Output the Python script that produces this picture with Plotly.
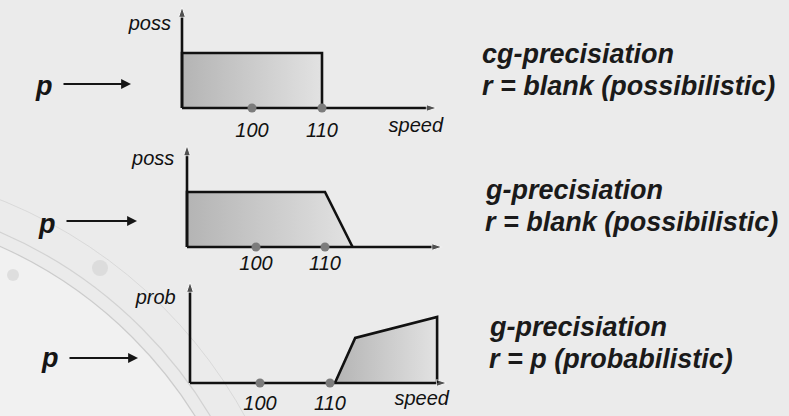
import plotly.graph_objects as go

W, H = 789, 416

# ---------------- data ----------------
speed_ticks = [100, 110]
tick_labels = ["100", "110"]

cg_speed = [90, 90, 110, 110]
cg_poss = [0, 1, 1, 0]

g_speed = [90, 90, 110, 114]
g_poss = [0, 1, 1, 0]

gp_speed = [110.7, 113.6, 125.3, 125.3]
gp_prob = [0, 0.82, 1.2, 0]

axis_start = [90, 90, 90]
axis_x_end = [126.4, 127.0, 126.7]
axis_y_top = [1.84, 1.85, 1.84]
y_titles = ["poss", "poss", "prob"]
x_title = ["speed", None, "speed"]

right_line1 = ["cg-precisiation", "g-precisiation", "g-precisiation"]
right_line2 = ["r = blank (possibilistic)", "r = blank (possibilistic)", "r = p (probabilistic)"]

panels_x = [cg_speed, g_speed, gp_speed]
panels_y = [cg_poss, g_poss, gp_prob]

# ---------------- layout helpers ----------------
origins = [(182, 108), (187, 247), (190, 383)]   # pixel of (90, 0)
sx_list = [7.0, 6.9, 7.0]
SY = 55.0
XR = [80, 130]
YR = [-0.55, 1.95]
tick_dy = [-0.44, -0.33, -0.40]
ytitle_pos = [(85.4, 1.51), (85.1, 1.58), (85.1, 1.53)]
xtitle_pos = [(123.4, -0.35), None, (123.1, -0.31)]

FONT = "Liberation Sans, Arial, sans-serif"
SMALL = 20

fig = go.Figure()
layout_axes = {}

for i in range(3):
    ox, oy = origins[i]
    sx = sx_list[i]
    xd = [(ox + (XR[0] - axis_start[i]) * sx) / W, (ox + (XR[1] - axis_start[i]) * sx) / W]
    yd = [(H - (oy - YR[0] * SY)) / H, (H - (oy - YR[1] * SY)) / H]
    xa = "xaxis" if i == 0 else f"xaxis{i+1}"
    ya = "yaxis" if i == 0 else f"yaxis{i+1}"
    xr = "x" if i == 0 else f"x{i+1}"
    yr = "y" if i == 0 else f"y{i+1}"
    layout_axes[xa] = dict(domain=xd, range=XR, visible=False, fixedrange=True, anchor=yr)
    layout_axes[ya] = dict(domain=yd, range=YR, visible=False, fixedrange=True, anchor=xr)

    # filled shape
    fig.add_trace(go.Scatter(
        x=panels_x[i], y=panels_y[i], xaxis=xr, yaxis=yr,
        mode="lines", fill="toself",
        fillgradient=dict(type="horizontal",
                          colorscale=[[0, "#b4b4b4"], [1, "#e2e2e2"]]),
        line=dict(color="#111111", width=2.6),
        hoverinfo="skip", showlegend=False))

    # axes with arrowheads
    fig.add_trace(go.Scatter(
        x=[axis_start[i], axis_x_end[i]], y=[0, 0], xaxis=xr, yaxis=yr,
        mode="lines+markers",
        line=dict(color="#111111", width=2.6),
        marker=dict(symbol="arrow", angleref="previous", size=[0, 11], color="#111111"),
        hoverinfo="skip", showlegend=False, cliponaxis=False))
    fig.add_trace(go.Scatter(
        x=[axis_start[i], axis_start[i]], y=[0, axis_y_top[i]], xaxis=xr, yaxis=yr,
        mode="lines+markers",
        line=dict(color="#111111", width=2.6),
        marker=dict(symbol="arrow", angleref="previous", size=[0, 11], color="#111111"),
        hoverinfo="skip", showlegend=False, cliponaxis=False))

    # dots at 100 and 110
    fig.add_trace(go.Scatter(
        x=speed_ticks, y=[0, 0], xaxis=xr, yaxis=yr, mode="markers",
        marker=dict(size=9, color="#7c7c7c"),
        hoverinfo="skip", showlegend=False, cliponaxis=False))

    # tick labels
    fig.add_trace(go.Scatter(
        x=speed_ticks, y=[tick_dy[i]] * 2, xaxis=xr, yaxis=yr, mode="text",
        text=tick_labels,
        textfont=dict(family=FONT, size=SMALL, color="#111111", style="italic"),
        hoverinfo="skip", showlegend=False, cliponaxis=False))

    # axis titles
    tx, ty = ytitle_pos[i]
    fig.add_trace(go.Scatter(
        x=[tx], y=[ty], xaxis=xr, yaxis=yr, mode="text", text=[y_titles[i]],
        textfont=dict(family=FONT, size=SMALL, color="#111111", style="italic"),
        hoverinfo="skip", showlegend=False, cliponaxis=False))
    if x_title[i]:
        tx, ty = xtitle_pos[i]
        fig.add_trace(go.Scatter(
            x=[tx], y=[ty], xaxis=xr, yaxis=yr, mode="text", text=[x_title[i]],
            textfont=dict(family=FONT, size=SMALL, color="#111111", style="italic"),
            hoverinfo="skip", showlegend=False, cliponaxis=False))

# ---------------- annotations: p -> arrows and right text ----------------
annotations = []
p_pos = [(44, 86), (47, 224), (50, 358)]
arrow_pos = [(62, 131, 84), (65, 137, 221), (68, 138, 358)]
for i in range(3):
    px, py = p_pos[i]
    annotations.append(dict(
        x=px / W, y=(H - py) / H, xref="paper", yref="paper",
        text="<b><i>p</i></b>", showarrow=False,
        font=dict(family=FONT, size=27, color="#151515"),
        xanchor="center", yanchor="middle"))
    x0, x1, ay = arrow_pos[i]
    annotations.append(dict(
        x=x1 / W, y=(H - ay) / H, xref="paper", yref="paper",
        ax=-(x1 - x0), ay=0, text="", showarrow=True,
        arrowhead=2, arrowsize=1.1, arrowwidth=1.8, arrowcolor="#151515"))

text_pos = [(480, 54, 86), (483, 190, 222), (487, 327, 359)]
for i in range(3):
    tx, y1, y2 = text_pos[i]
    for txt, yy in [(right_line1[i], y1), (right_line2[i], y2)]:
        annotations.append(dict(
            x=tx / W, y=(H - yy) / H, xref="paper", yref="paper",
            text=f"<b><i>{txt}</i></b>", showarrow=False,
            font=dict(family=FONT, size=27, color="#1a1a1a"),
            xanchor="left", yanchor="middle"))

# ---------------- decorative background ----------------
shapes = []
cx, cy = -180, 650
shapes.append(dict(type="circle", xref="paper", yref="paper", layer="below",
                   x0=(cx - 442) / W, x1=(cx + 442) / W,
                   y0=(H - (cy + 442)) / H, y1=(H - (cy - 442)) / H,
                   line=dict(width=0), fillcolor="rgba(248,248,248,0.45)"))
for r, col, w in [(442, "rgba(195,195,195,0.8)", 1.2), (455, "rgba(200,200,200,0.7)", 1.2),
                  (485, "rgba(205,205,205,0.6)", 1.0)]:
    shapes.append(dict(type="circle", xref="paper", yref="paper", layer="below",
                       x0=(cx - r) / W, x1=(cx + r) / W,
                       y0=(H - (cy + r)) / H, y1=(H - (cy - r)) / H,
                       line=dict(color=col, width=w), fillcolor="rgba(0,0,0,0)"))
for (dx, dy, rr) in [(13, 275, 6), (100, 268, 8)]:
    shapes.append(dict(type="circle", xref="paper", yref="paper", layer="below",
                       x0=(dx - rr) / W, x1=(dx + rr) / W,
                       y0=(H - (dy + rr)) / H, y1=(H - (dy - rr)) / H,
                       line=dict(width=0), fillcolor="rgba(210,210,210,0.6)"))

fig.update_layout(
    width=W, height=H,
    margin=dict(l=0, r=0, t=0, b=0),
    paper_bgcolor="#ebebeb",
    plot_bgcolor="rgba(0,0,0,0)",
    showlegend=False,
    annotations=annotations,
    shapes=shapes,
    **layout_axes,
)

fig.write_html("out.html",
               config={"displayModeBar": False},
               post_script="document.body.style.margin='0';document.body.style.overflow='hidden';")
